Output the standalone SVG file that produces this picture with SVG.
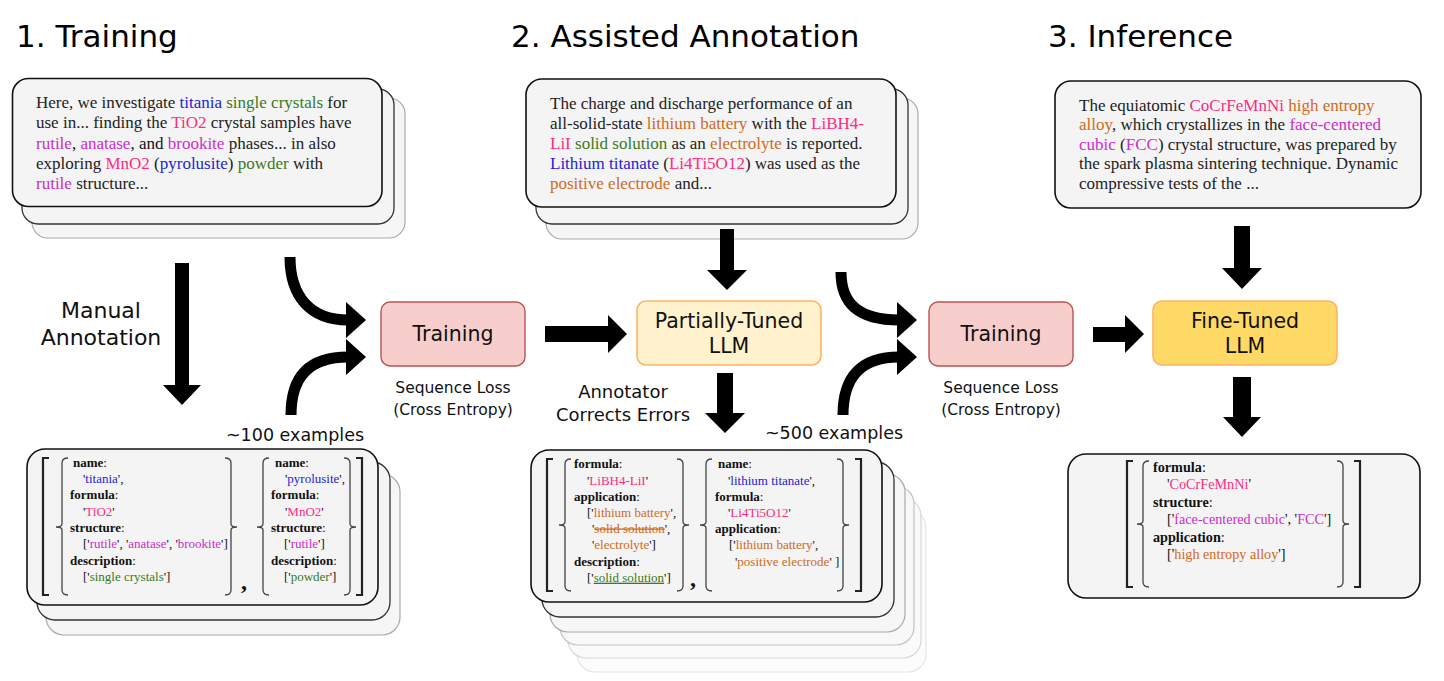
<svg xmlns="http://www.w3.org/2000/svg" width="1444" height="681" viewBox="0 0 1444 681">
<defs>
<style>
.title{font-family:"DejaVu Sans",Verdana,sans-serif;font-size:31px;fill:#000}
.lbl{font-family:"DejaVu Sans",Verdana,sans-serif;fill:#111}
.node{font-family:"DejaVu Sans",Verdana,sans-serif;font-size:20.5px;fill:#111;text-anchor:middle}
.body{font-family:"Liberation Serif","Times New Roman",serif;font-size:17px;fill:#222}
.js{font-family:"Liberation Serif","Times New Roman",serif;font-size:13px;fill:#111}
.js2{font-family:"Liberation Serif","Times New Roman",serif;font-size:14.2px;fill:#111}
.comma{font-family:"Liberation Serif","Times New Roman",serif;font-size:24px;font-weight:bold;fill:#111}
.k{font-weight:bold}
.b{fill:#2323d6}.g{fill:#3b7a1c}.p{fill:#ff2b80}.m{fill:#cc2ccc}.o{fill:#d06a20}.blk{fill:#111}
.card{fill:#f4f4f4;stroke:#111;stroke-width:1.6}
.card2{fill:#f4f4f4;stroke:#333;stroke-width:1.3}
.card3{fill:#f6f6f6;stroke:#aaa;stroke-width:1.2}
.sq{fill:none;stroke:#222;stroke-width:2.2}
.br{fill:none;stroke:#444;stroke-width:1.3}
.arr{fill:#000}
.curve{fill:none;stroke:#000;stroke-width:11}
.train{fill:#f8cecc;stroke:#b85450;stroke-width:1.4}
.ptl{fill:#fff2cc;stroke:#ffb366;stroke-width:1.6}
.ftl{fill:#ffd966;stroke:#ffb366;stroke-width:1.6}
</style>
</defs>
<rect width="1444" height="681" fill="#fff"/>

<g id="titles">
<text class="title" x="16" y="47">1. Training</text>
<text class="title" x="511" y="47">2. Assisted Annotation</text>
<text class="title" x="1048" y="47">3. Inference</text>
</g>

<g id="text-training">
<rect class="card3" x="32" y="98" width="373" height="140" rx="16"/>
<rect class="card2" x="22" y="89" width="372" height="135" rx="16"/>
<rect class="card" x="12.5" y="78.5" width="369.5" height="128" rx="16"/>
<text class="body" x="36" y="107.7">Here, we investigate <tspan class="b">titania</tspan> <tspan class="g">single crystals</tspan> for</text>
<text class="body" x="36" y="128.1">use in... finding the <tspan class="p">TiO2</tspan> crystal samples have</text>
<text class="body" x="36" y="148.5"><tspan class="m">rutile</tspan><tspan class="blk">, </tspan><tspan class="m">anatase</tspan><tspan class="blk">, and </tspan><tspan class="m">brookite</tspan> phases... in also</text>
<text class="body" x="36" y="168.9">exploring <tspan class="p">MnO2</tspan> (<tspan class="b">pyrolusite</tspan>) <tspan class="g">powder</tspan> with</text>
<text class="body" x="36" y="189.3"><tspan class="m">rutile</tspan> structure...</text>
</g>

<g id="json-training">
<rect class="card3" x="46" y="474" width="354" height="161" rx="18"/>
<rect class="card2" x="37" y="462" width="353" height="158" rx="18"/>
<rect class="card" x="27" y="449" width="351" height="156" rx="18"/>
<path class="sq" d="M49 458 H43 V595 H49"/>
<path class="sq" d="M356 458 H362 V595 H356"/>
<path class="br" d="M68 458 Q62 458 62 463 V524 Q62 527 56 527 Q62 527 62 530 V590 Q62 595 68 595"/>
<path class="br" d="M225 458 Q231 458 231 463 V524 Q231 527 237 527 Q231 527 231 530 V590 Q231 595 225 595"/>
<path class="br" d="M269 458 Q263 458 263 463 V524 Q263 527 257 527 Q263 527 263 530 V590 Q263 595 269 595"/>
<path class="br" d="M344 458 Q350 458 350 463 V524 Q350 527 356 527 Q350 527 350 530 V590 Q350 595 344 595"/>
<text class="js" x="73" y="466.7"><tspan class="k">name</tspan>:</text>
<text class="js" x="83" y="483">'<tspan class="b">titania</tspan>',</text>
<text class="js" x="70" y="499.3"><tspan class="k">formula</tspan>:</text>
<text class="js" x="83" y="515.6">'<tspan class="p">TiO2</tspan>'</text>
<text class="js" x="70" y="531.9"><tspan class="k">structure</tspan>:</text>
<text class="js" x="83" y="548.2">['<tspan class="m">rutile</tspan>', '<tspan class="m">anatase</tspan>', '<tspan class="m">brookite</tspan>']</text>
<text class="js" x="70" y="564.5"><tspan class="k">description</tspan>:</text>
<text class="js" x="83" y="580.8">['<tspan class="g">single crystals</tspan>']</text>
<text class="comma" x="241" y="589">,</text>
<text class="js" x="275" y="466.7"><tspan class="k">name</tspan>:</text>
<text class="js" x="285" y="483">'<tspan class="b">pyrolusite</tspan>',</text>
<text class="js" x="271" y="499.3"><tspan class="k">formula</tspan>:</text>
<text class="js" x="285" y="515.6">'<tspan class="p">MnO2</tspan>'</text>
<text class="js" x="271" y="531.9"><tspan class="k">structure</tspan>:</text>
<text class="js" x="284" y="548.2">['<tspan class="m">rutile</tspan>']</text>
<text class="js" x="271" y="564.5"><tspan class="k">description</tspan>:</text>
<text class="js" x="284" y="580.8">['<tspan class="g">powder</tspan>']</text>
</g>

<g id="text-annotation">
<rect class="card3" x="546" y="98" width="372" height="141" rx="16"/>
<rect class="card2" x="536" y="89" width="372" height="135" rx="16"/>
<rect class="card" x="526" y="79" width="370" height="128" rx="16"/>
<text class="body" x="550" y="109.3" fill="#111">The charge and discharge performance of an</text>
<text class="body" x="550" y="129.3">all-solid-state <tspan class="o">lithium battery</tspan> with the <tspan class="p">LiBH4-</tspan></text>
<text class="body" x="550" y="149.3"><tspan class="p">LiI</tspan> <tspan class="g">solid solution</tspan> as an <tspan class="o">electrolyte</tspan> is reported.</text>
<text class="body" x="550" y="169.3"><tspan class="b">Lithium titanate</tspan> (<tspan class="p">Li4Ti5O12</tspan>) was used as the</text>
<text class="body" x="550" y="189.3"><tspan class="o">positive electrode</tspan> and...</text>
</g>

<g id="json-annotation">
<rect x="577" y="510" width="349" height="162" rx="18" fill="#fcfcfc" stroke="#e6e6e6" stroke-width="1.2"/>
<rect x="568" y="498" width="353" height="160" rx="18" fill="#fafafa" stroke="#d8d8d8" stroke-width="1.2"/>
<rect x="560" y="486" width="354" height="159" rx="18" fill="#f8f8f8" stroke="#c4c4c4" stroke-width="1.2"/>
<rect class="card3" x="550" y="474" width="355" height="158" rx="18"/>
<rect class="card2" x="542" y="462" width="352" height="155" rx="18"/>
<rect class="card" x="531" y="450" width="351" height="152" rx="18"/>
<path class="sq" d="M553 459 H547 V591 H553"/>
<path class="sq" d="M855 459 H861 V591 H855"/>
<path class="br" d="M571 459 Q565 459 565 464 V522 Q565 525 559 525 Q565 525 565 528 V586 Q565 591 571 591"/>
<path class="br" d="M677 459 Q683 459 683 464 V522 Q683 525 689 525 Q683 525 683 528 V586 Q683 591 677 591"/>
<path class="br" d="M712 459 Q706 459 706 464 V522 Q706 525 700 525 Q706 525 706 528 V586 Q706 591 712 591"/>
<path class="br" d="M837 459 Q843 459 843 464 V522 Q843 525 849 525 Q843 525 843 528 V586 Q843 591 837 591"/>
<text class="js" x="574" y="468.3"><tspan class="k">formula</tspan>:</text>
<text class="js" x="587" y="484.5">'<tspan class="p">LiBH4-LiI</tspan>'</text>
<text class="js" x="574" y="500.7"><tspan class="k">application</tspan>:</text>
<text class="js" x="587" y="516.9">['<tspan class="o">lithium battery</tspan>',</text>
<text class="js" x="592" y="533.1">'<tspan class="o" text-decoration="line-through">solid solution</tspan>',</text>
<text class="js" x="592" y="549.3">'<tspan class="o">electrolyte</tspan>']</text>
<text class="js" x="574" y="565.5"><tspan class="k">description</tspan>:</text>
<text class="js" x="587" y="581.7">['<tspan class="g" text-decoration="underline">solid solution</tspan>']</text>
<text class="comma" x="690" y="586">,</text>
<text class="js" x="718" y="468.3"><tspan class="k">name</tspan>:</text>
<text class="js" x="728" y="484.5">'<tspan class="b">lithium titanate</tspan>',</text>
<text class="js" x="715" y="500.7"><tspan class="k">formula</tspan>:</text>
<text class="js" x="728" y="516.9">'<tspan class="p">Li4Ti5O12</tspan>'</text>
<text class="js" x="715" y="533.1"><tspan class="k">application</tspan>:</text>
<text class="js" x="729" y="549.3">['<tspan class="o">lithium battery</tspan>',</text>
<text class="js" x="735" y="565.5">'<tspan class="o">positive electrode</tspan>' ]</text>
</g>

<g id="text-inference">
<rect class="card" x="1055" y="81" width="366" height="127" rx="16"/>
<text class="body" x="1079" y="110.5" fill="#111">The equiatomic <tspan class="p">CoCrFeMnNi</tspan> <tspan class="o">high entropy</tspan></text>
<text class="body" x="1079" y="130"><tspan class="o">alloy</tspan>, which crystallizes in the <tspan class="m">face-centered</tspan></text>
<text class="body" x="1079" y="149.5"><tspan class="m">cubic</tspan> (<tspan class="m">FCC</tspan>) crystal structure, was prepared by</text>
<text class="body" x="1079" y="169">the spark plasma sintering technique. Dynamic</text>
<text class="body" x="1079" y="188.5">compressive tests of the ...</text>
</g>

<g id="json-inference">
<rect class="card" x="1068" y="454" width="352" height="144" rx="18"/>
<path class="sq" d="M1133 461 H1127 V587 H1133"/>
<path class="sq" d="M1354 461 H1360 V587 H1354"/>
<path class="br" d="M1149 461 Q1143 461 1143 466 V521 Q1143 524 1137 524 Q1143 524 1143 527 V582 Q1143 587 1149 587"/>
<path class="br" d="M1337 461 Q1343 461 1343 466 V521 Q1343 524 1349 524 Q1343 524 1343 527 V582 Q1343 587 1337 587"/>
<text class="js2" x="1153" y="471.8"><tspan class="k">formula</tspan>:</text>
<text class="js2" x="1167" y="489.3">'<tspan class="p">CoCrFeMnNi</tspan>'</text>
<text class="js2" x="1153" y="506.8"><tspan class="k">structure</tspan>:</text>
<text class="js2" x="1167" y="524.3">['<tspan class="m">face-centered cubic</tspan>', '<tspan class="m">FCC</tspan>']</text>
<text class="js2" x="1153" y="541.8"><tspan class="k">application</tspan>:</text>
<text class="js2" x="1167" y="559.3">['<tspan class="o">high entropy alloy</tspan>']</text>
</g>

<g id="training-1">
<rect class="train" x="381" y="302" width="144" height="64" rx="9"/>
<text class="node" x="453" y="341">Training</text>
</g>
<g id="partially-tuned-llm">
<rect class="ptl" x="637" y="301" width="184" height="64" rx="9"/>
<text class="node" x="729" y="328">Partially-Tuned</text>
<text class="node" x="729" y="353">LLM</text>
</g>
<g id="training-2">
<rect class="train" x="929" y="302" width="144" height="64" rx="9"/>
<text class="node" x="1001" y="341">Training</text>
</g>
<g id="fine-tuned-llm">
<rect class="ftl" x="1153" y="301" width="184" height="64" rx="9"/>
<text class="node" x="1245" y="328">Fine-Tuned</text>
<text class="node" x="1245" y="353">LLM</text>
</g>

<g id="connectors">
<polygon class="arr" points="175,263 189,263 189,385 201,385 182,405 163,385 175,385"/>
<path class="curve" d="M290 257 C290 296 310 320 348 320"/>
<polygon class="arr" points="346,302 366,320 346,338"/>
<path class="curve" d="M291 415 C291 376 310 357 348 357"/>
<polygon class="arr" points="346,339 366,357 346,375"/>
<polygon class="arr" points="545,326 608,326 608,315 627,334 608,353 608,342 545,342"/>
<polygon class="arr" points="720,229 734,229 734,270 747,270 727,290 707,270 720,270"/>
<polygon class="arr" points="717,373 733,373 733,413 745,413 725,433 705,413 717,413"/>
<path class="curve" d="M841 272 C841 305 860 320 899 320"/>
<polygon class="arr" points="897,302 917,320 897,338"/>
<path class="curve" d="M843 415 C843 376 862 357 899 357"/>
<polygon class="arr" points="897,339 917,357 897,375"/>
<polygon class="arr" points="1093,327 1125,327 1125,315 1144,334 1125,353 1125,342 1093,342"/>
<polygon class="arr" points="1234,226 1250,226 1250,268 1262,268 1242,289 1222,268 1234,268"/>
<polygon class="arr" points="1233,377 1251,377 1251,417 1261,417 1242,437 1223,417 1233,417"/>
</g>

<g id="labels">
<text class="lbl" x="101" y="318" font-size="22" text-anchor="middle">Manual</text>
<text class="lbl" x="101" y="345" font-size="22" text-anchor="middle">Annotation</text>
<text class="lbl" x="295" y="441" font-size="17.5" text-anchor="middle">~100 examples</text>
<text class="lbl" x="453" y="393" font-size="15.5" text-anchor="middle">Sequence Loss</text>
<text class="lbl" x="453" y="414.5" font-size="15.5" text-anchor="middle">(Cross Entropy)</text>
<text class="lbl" x="623" y="398" font-size="18" text-anchor="middle">Annotator</text>
<text class="lbl" x="623" y="420.5" font-size="18" text-anchor="middle">Corrects Errors</text>
<text class="lbl" x="834" y="439" font-size="17.5" text-anchor="middle">~500 examples</text>
<text class="lbl" x="1001" y="393" font-size="15.5" text-anchor="middle">Sequence Loss</text>
<text class="lbl" x="1001" y="414.5" font-size="15.5" text-anchor="middle">(Cross Entropy)</text>
</g>
</svg>
